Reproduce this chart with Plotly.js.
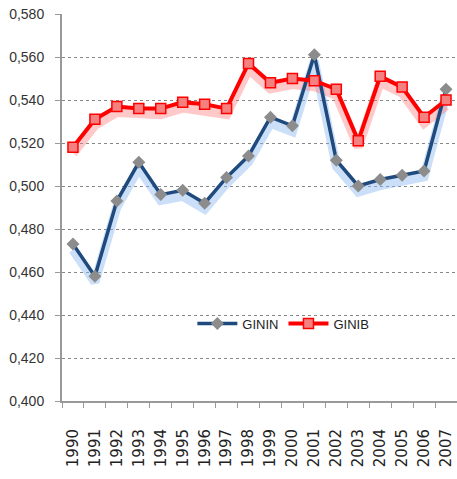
<!DOCTYPE html>
<html><head><meta charset="utf-8">
<script src="https://cdn.plot.ly/plotly-3.0.1.min.js"></script>
<style>html,body{margin:0;padding:0;background:#fff}#chart{width:457px;height:479px}</style>
</head><body><div id="chart"></div>
<script>
const years = ["1990","1991","1992","1993","1994","1995","1996","1997","1998","1999","2000","2001","2002","2003","2004","2005","2006","2007"];
const ginin = [0.473,0.458,0.493,0.511,0.496,0.498,0.492,0.504,0.514,0.532,0.528,0.561,0.512,0.500,0.503,0.505,0.507,0.545];
const ginib = [0.518,0.531,0.537,0.536,0.536,0.539,0.538,0.536,0.557,0.548,0.550,0.549,0.545,0.521,0.551,0.546,0.532,0.540];
const yTicks = [0.40,0.42,0.44,0.46,0.48,0.50,0.52,0.54,0.56,0.58];

const shift = 0.0028;
const traces = [
  {x: years, y: ginin, yaxis: 'y', mode: 'lines', line: {color: 'rgba(140,185,240,0.45)', width: 9}, showlegend: false, hoverinfo: 'skip'},
  {x: years, y: ginib, yaxis: 'y', mode: 'lines', line: {color: 'rgba(255,120,120,0.4)', width: 9}, showlegend: false, hoverinfo: 'skip'},
  {x: years, y: ginin, yaxis: 'y2', name: 'GININ', mode: 'lines+markers', line: {color: '#1F4A7D', width: 3.5},
   marker: {symbol: 'diamond', size: 10, color: '#8C8C8C', line: {color: '#8C8C8C', width: 0}}},
  {x: years, y: ginib, yaxis: 'y2', name: 'GINIB', mode: 'lines+markers', line: {color: '#FF0000', width: 4},
   marker: {symbol: 'square', size: 10, color: '#F58080', line: {color: '#FF0000', width: 1.5}}}
];
const layout = {
  width: 457, height: 479,
  margin: {l: 62, r: 0, t: 14, b: 78},
  paper_bgcolor: '#fff', plot_bgcolor: '#fff',
  separators: ',.',
  font: {family: 'Liberation Sans, Arial, sans-serif', color: '#333'},
  showlegend: true,
  legend: {orientation: 'h', x: 0.33, y: 0.2, xanchor: 'left', yanchor: 'middle', bgcolor: 'rgba(0,0,0,0)',
           font: {size: 13, color: '#222'}, itemwidth: 40, traceorder: 'normal'},
  xaxis: {type: 'category', tickangle: -90, tickson: 'boundaries', ticks: 'outside', ticklen: 5, tickcolor: '#999',
          showline: true, linecolor: '#999', linewidth: 2, showgrid: false, zeroline: false, ticklabelstandoff: 20,
          tickfont: {size: 15, color: '#222', family: 'DejaVu Sans, sans-serif'}, range: [-0.5, 17.5]},
  yaxis: {range: [0.40 + shift, 0.58 + shift], visible: false, showgrid: false, zeroline: false},
  yaxis2: {overlaying: 'y', side: 'left', range: [0.40, 0.58], tickvals: yTicks, tickformat: '.3f', ticks: 'outside', ticklen: 5, tickcolor: '#999',
          showline: true, linecolor: '#999', linewidth: 2, showgrid: true, gridcolor: '#888', griddash: 'dot', gridwidth: 1,
          zeroline: false, ticklabelstandoff: 8, tickfont: {size: 14, color: '#333'}}
};
Plotly.newPlot('chart', traces, layout, {displayModeBar: false, staticPlot: true});
</script></body></html>
